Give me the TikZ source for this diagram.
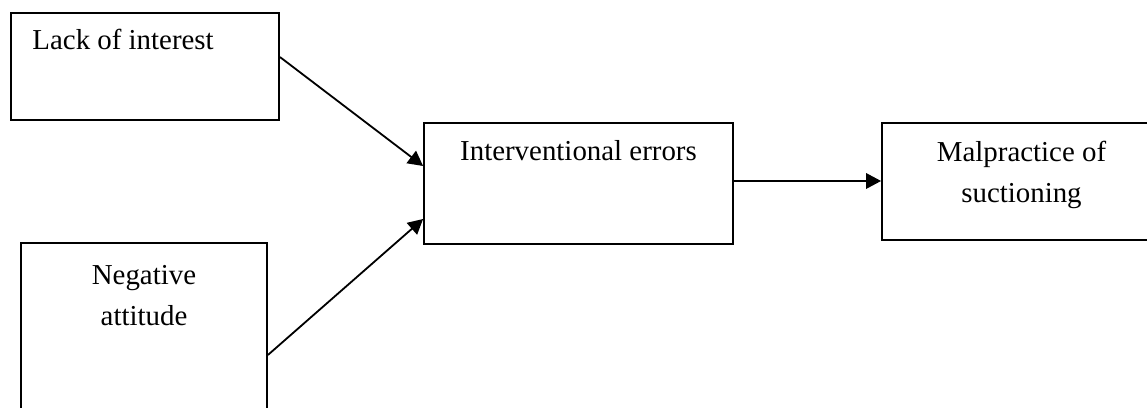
\documentclass[tikz,border=0pt]{standalone}
\usepackage{fontspec}
\setmainfont{Liberation Serif}
\usetikzlibrary{arrows.meta}

\begin{document}
\begin{tikzpicture}[x=0.0146cm, y=-0.0146cm,
    box/.style={draw, line width=0.75pt, inner sep=0pt},
    txt/.style={inner sep=0pt, align=center, font=\fontsize{12pt}{16.8pt}\selectfont},
    arr/.style={-{Triangle[length=6.2pt, width=6.4pt]}, line width=0.75pt}]

    % Define parameters
    \def\pxu{0.0146cm} % one pixel of the page

    % Page size (right and bottom boxes run off the page)
    \useasboundingbox (0,0) rectangle (1147,408);
    \clip (0,0) rectangle (1147,408);

    % Boxes
    \node[box, minimum width=268*\pxu, minimum height=107*\pxu] (lack) at (145,66.5) {};
    \node[box, minimum width=246*\pxu, minimum height=187*\pxu] (attitude) at (144,336.5) {};
    \node[box, minimum width=309*\pxu, minimum height=121*\pxu] (errors) at (578.5,183.5) {};
    \node[box, minimum width=279*\pxu, minimum height=117*\pxu] (malp) at (1021.5,181.5) {};

    % Texts
    \node[txt, anchor=base west] (lackText) at (32,50) {Lack of interest};
    \node[txt, anchor=north] (attitudeText) at (144,265) {Negative\\attitude};
    \node[txt, anchor=base] (errorsText) at (578.5,161) {Interventional errors};
    \node[txt, anchor=north] (malpText) at (1021.5,141) {Malpractice of\\suctioning};

    % Arrows
    \draw[arr] ([yshift=9.5*\pxu]lack.east) -- ([yshift=17.5*\pxu]errors.west);
    \draw[arr] ([yshift=-18.5*\pxu]attitude.east) -- ([yshift=-35.5*\pxu]errors.west);
    \draw[arr] ([yshift=2.5*\pxu]errors.east) -- ([yshift=0.5*\pxu]malp.west);

\end{tikzpicture}
\end{document}
